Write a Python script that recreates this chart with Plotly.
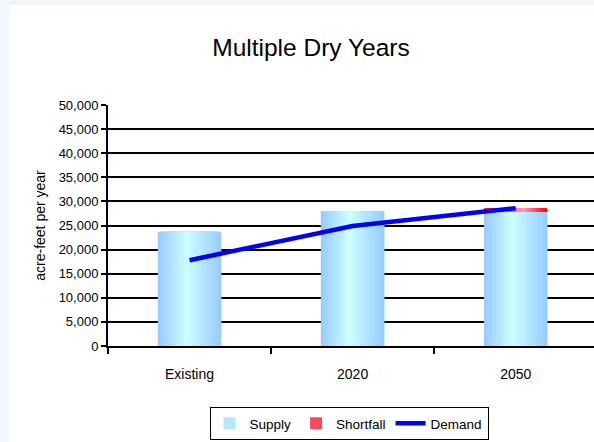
import plotly.graph_objects as go

# ---- data ----
categories = ["Existing", "2020", "2050"]
supply = [23700, 28000, 27800]
shortfall = [0, 0, 800]
demand = [17800, 24900, 28600]
y_ticks = [0, 5000, 10000, 15000, 20000, 25000, 30000, 35000, 40000, 45000, 50000]
y_ticklabels = ["0", "5,000", "10,000", "15,000", "20,000", "25,000", "30,000",
                "35,000", "40,000", "45,000", "50,000"]

# ---- styling ----
W = 0.39          # bar width in category units
N = 16            # layers used to fake a horizontal gradient


def lerp(c1, c2, t):
    return "rgb(%d,%d,%d)" % tuple(round(a + (b - a) * t) for a, b in zip(c1, c2))


def gradient_bars(y, base, edge, peak, p, name, legend_layer):
    traces = []
    for k in range(N):
        t = k / (N - 1)
        left = -W / 2 + t * p * W * 0.97
        right = W / 2 - t * (1 - p) * W * 0.97
        traces.append(go.Bar(
            x=categories, y=y, base=base,
            width=[right - left] * len(categories),
            offset=[left] * len(categories),
            marker=dict(color=lerp(edge, peak, t), line=dict(width=0)),
            name=name, legendgroup=name,
            showlegend=(k == legend_layer),
            hoverinfo="skip",
        ))
    return traces


fig = go.Figure()

for tr in gradient_bars(supply, [0] * 3, (153, 204, 255), (204, 255, 255), 0.45, "Supply", 8):
    fig.add_trace(tr)
for tr in gradient_bars(shortfall, supply, (255, 0, 0), (255, 153, 204), 0.62, "Shortfall", 7):
    fig.add_trace(tr)

fig.add_trace(go.Scatter(
    x=categories, y=demand, mode="lines", name="Demand",
    line=dict(color="#0000FF", width=4.5),
))

font_main = "Liberation Sans, Arial, sans-serif"

fig.update_layout(
    width=594, height=442,
    margin=dict(l=108, r=0, t=105, b=96),
    paper_bgcolor="white", plot_bgcolor="white",
    barmode="overlay",
    title=dict(text="Multiple Dry Years", x=311 / 594, xanchor="center",
               y=1 - 47 / 442, yanchor="middle", yref="container",
               font=dict(family=font_main, size=24.5, color="black")),
    showlegend=True,
    legend=dict(orientation="h", x=(349 - 108) / 486, xanchor="center",
                y=(346 - 407) / 241, yanchor="top",
                bordercolor="black", borderwidth=1, bgcolor="white",
                font=dict(family=font_main, size=13.5, color="black"),
                itemwidth=30, tracegroupgap=0),
    shapes=[
        dict(type="rect", xref="paper", yref="paper", layer="below",
             x0=-108 / 486, x1=1, y0=(346 - 5) / 241, y1=346 / 241,
             fillcolor="#EEF6FC", line=dict(width=0)),
        dict(type="rect", xref="paper", yref="paper", layer="below",
             x0=-108 / 486, x1=-98 / 486, y0=(346 - 442) / 241, y1=346 / 241,
             fillcolor="#F2F8FD", line=dict(width=0)),
    ],
)

fig.update_xaxes(
    type="category", range=[-0.5, 2.48],
    showline=True, linecolor="black", linewidth=1.5,
    ticks="outside", tickson="boundaries", ticklen=6, tickcolor="black", tickwidth=1.5,
    showgrid=False, zeroline=False,
    tickfont=dict(family=font_main, size=14, color="black"),
    ticklabelstandoff=14,
)
fig.update_yaxes(
    range=[0, 50000], tickvals=y_ticks, ticktext=y_ticklabels,
    showline=True, linecolor="black", linewidth=2,
    ticks="outside", ticklen=5, tickcolor="black", tickwidth=1.5,
    showgrid=True, gridcolor="black", gridwidth=1.5, zeroline=False,
    tickfont=dict(family=font_main, size=13, color="black"),
    title=dict(text="acre-feet per year", standoff=10,
               font=dict(family=font_main, size=14, color="black")),
)

fig.write_html("out.html")
